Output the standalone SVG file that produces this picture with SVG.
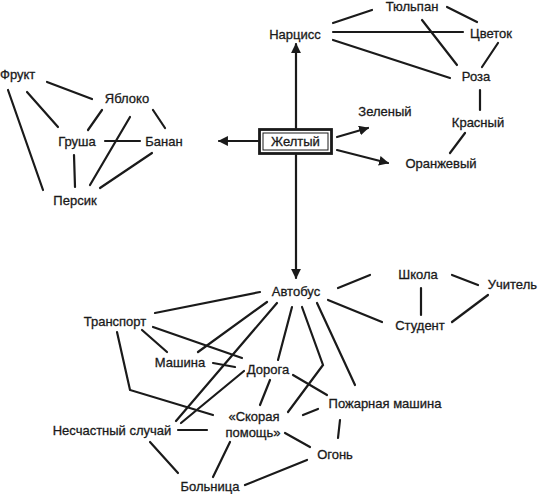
<svg xmlns="http://www.w3.org/2000/svg" width="538" height="494" viewBox="0 0 538 494">
<style>
text{font-family:"Liberation Sans",Arial,sans-serif;font-size:13px;fill:#1a1a1a;stroke:#1a1a1a;stroke-width:0.3;text-anchor:middle}
.c line,.c polyline{stroke:#1a1a1a;stroke-width:2.2;fill:none;stroke-linecap:round}
.box{fill:#fff;stroke:#1a1a1a}
</style>
<defs>
<marker id="ah" viewBox="0 0 10 10" refX="9" refY="5" markerWidth="4.5" markerHeight="4.5" orient="auto" markerUnits="strokeWidth">
<path d="M0,0 L10,5 L0,10 Z" fill="#1a1a1a"/>
</marker>
</defs>
<rect width="538" height="494" fill="#fff"/>
<g class="c" id="connectors">
<line x1="47" y1="82" x2="92" y2="99"/>
<line x1="27" y1="92" x2="58" y2="127"/>
<line x1="8" y1="90" x2="43" y2="190"/>
<line x1="102" y1="110" x2="88" y2="130"/>
<line x1="130" y1="117" x2="90" y2="185"/>
<line x1="153" y1="110" x2="165" y2="128"/>
<line x1="105" y1="141" x2="140" y2="141"/>
<line x1="74" y1="155" x2="75" y2="187"/>
<line x1="152" y1="153" x2="100" y2="188"/>
<line x1="333" y1="23" x2="372" y2="10"/>
<line x1="447" y1="7" x2="477" y2="22"/>
<line x1="333" y1="32" x2="463" y2="32"/>
<line x1="422" y1="20" x2="457" y2="65"/>
<line x1="333" y1="40" x2="450" y2="78"/>
<line x1="498" y1="43" x2="482" y2="67"/>
<line x1="480" y1="90" x2="480" y2="110"/>
<line x1="465" y1="133" x2="450" y2="153"/>
<line x1="337" y1="137" x2="368" y2="128" marker-end="url(#ah)"/>
<line x1="337" y1="150" x2="388" y2="163" marker-end="url(#ah)"/>
<line x1="296" y1="128" x2="296" y2="44" marker-end="url(#ah)"/>
<line x1="258" y1="141" x2="219" y2="141" marker-end="url(#ah)"/>
<line x1="296" y1="155" x2="296" y2="278" marker-end="url(#ah)"/>
<line x1="260" y1="292" x2="155" y2="313"/>
<line x1="267" y1="302" x2="198" y2="352"/>
<line x1="277" y1="303" x2="176" y2="421"/>
<line x1="292" y1="307" x2="278" y2="360"/>
<polyline points="302,307 323,365 288,412"/>
<line x1="317" y1="303" x2="355" y2="385"/>
<line x1="338" y1="288" x2="370" y2="275"/>
<line x1="328" y1="300" x2="382" y2="322"/>
<line x1="452" y1="275" x2="478" y2="285"/>
<line x1="421" y1="288" x2="421" y2="315"/>
<line x1="452" y1="322" x2="488" y2="295"/>
<line x1="142" y1="330" x2="167" y2="352"/>
<line x1="153" y1="327" x2="242" y2="358"/>
<polyline points="117,332 130,390 213,415"/>
<line x1="213" y1="363" x2="235" y2="367"/>
<line x1="244" y1="371" x2="181" y2="423"/>
<line x1="270" y1="380" x2="260" y2="405"/>
<line x1="293" y1="375" x2="327" y2="395"/>
<line x1="178" y1="430" x2="207" y2="430"/>
<line x1="150" y1="442" x2="178" y2="473"/>
<line x1="230" y1="442" x2="213" y2="477"/>
<line x1="245" y1="485" x2="307" y2="460"/>
<line x1="285" y1="433" x2="310" y2="447"/>
<line x1="340" y1="420" x2="338" y2="438"/>
<line x1="303" y1="415" x2="318" y2="409"/>
</g>
<g id="n-frukt"><text x="0" y="79" style="text-anchor:start">Фрукт</text></g>
<g id="n-yabloko"><text x="127" y="103">Яблоко</text></g>
<g id="n-grusha"><text x="77" y="146">Груша</text></g>
<g id="n-banan"><text x="164" y="146">Банан</text></g>
<g id="n-persik"><text x="75" y="205">Персик</text></g>
<g id="n-narciss"><text x="295" y="39">Нарцисс</text></g>
<g id="n-tyulpan"><text x="412" y="11">Тюльпан</text></g>
<g id="n-cvetok"><text x="491" y="38">Цветок</text></g>
<g id="n-roza"><text x="476" y="81">Роза</text></g>
<g id="n-krasny"><text x="478" y="127">Красный</text></g>
<g id="n-zeleny"><text x="385" y="116">Зеленый</text></g>
<g id="n-oranzh"><text x="441" y="168">Оранжевый</text></g>
<g id="n-zhelty">
<rect class="box" x="259.5" y="129.5" width="72" height="24" stroke-width="2.8"/>
<rect x="263" y="133" width="65" height="17" fill="none" stroke="#1a1a1a" stroke-width="1"/>
<text x="295.5" y="146">Желтый</text>
</g>
<g id="n-avtobus"><text x="296" y="296">Автобус</text></g>
<g id="n-shkola"><text x="418" y="279">Школа</text></g>
<g id="n-uchitel"><text x="537" y="289" style="text-anchor:end">Учитель</text></g>
<g id="n-student"><text x="420" y="330">Студент</text></g>
<g id="n-transport"><text x="115" y="326">Транспорт</text></g>
<g id="n-mashina"><text x="180" y="367">Машина</text></g>
<g id="n-doroga"><text x="268" y="374">Дорога</text></g>
<g id="n-pozhar"><text x="385" y="408">Пожарная машина</text></g>
<g id="n-skoraya"><text x="254" y="421">«Скорая</text><text x="253" y="437">помощь»</text></g>
<g id="n-neschast"><text x="112" y="435">Несчастный случай</text></g>
<g id="n-ogon"><text x="335" y="459">Огонь</text></g>
<g id="n-bolnica"><text x="210" y="491">Больница</text></g>
</svg>
